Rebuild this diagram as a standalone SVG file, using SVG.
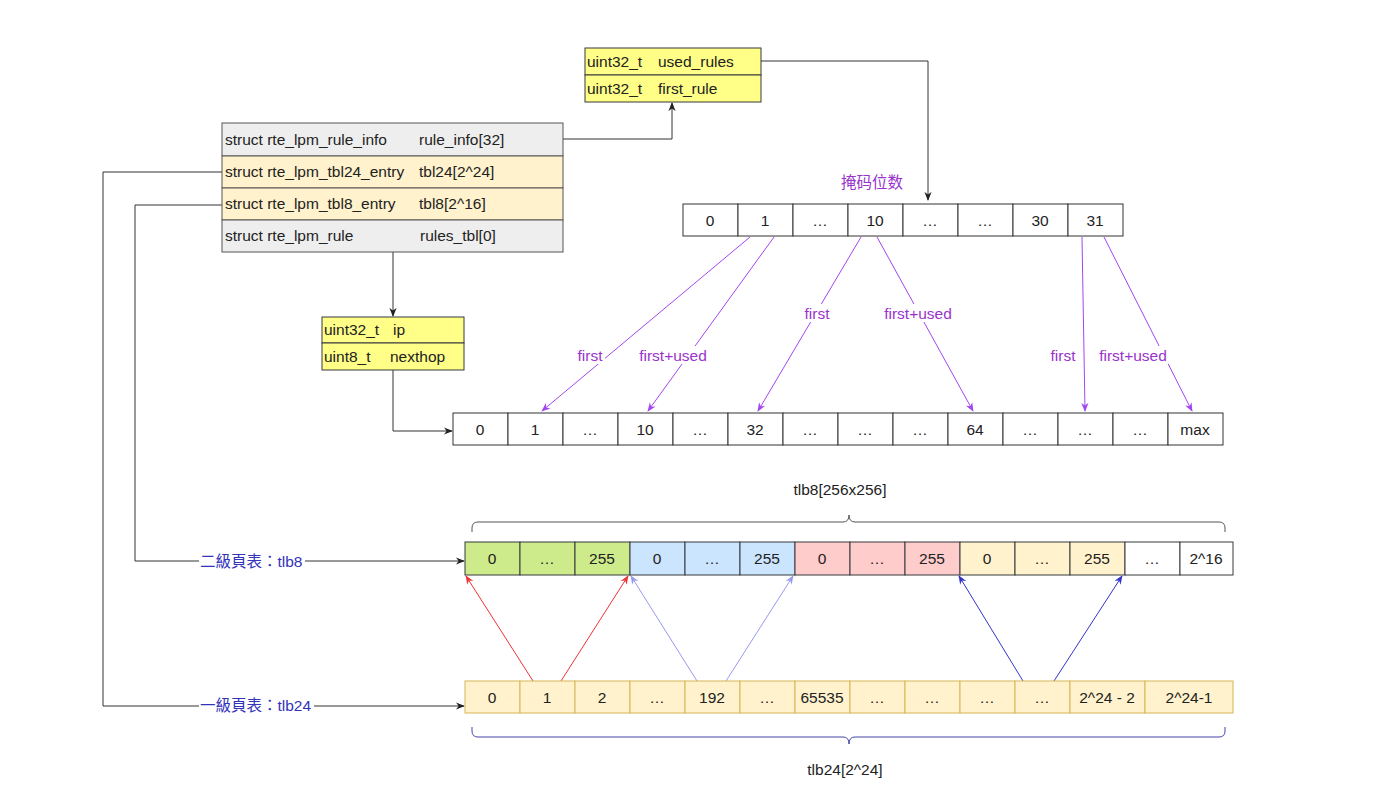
<svg xmlns="http://www.w3.org/2000/svg" width="1375" height="809" viewBox="0 0 1375 809">
<defs>
<style>
text{font-family:"Liberation Sans",Arial,"Noto Sans CJK SC",sans-serif;font-size:15.5px;fill:#222}
.c{text-anchor:middle}
.y{fill:#FFFF88;stroke:#36393d}
.g{fill:#EEEEEE;stroke:#555}
.o{fill:#FFF2CC;stroke:#555}
.ln{fill:none;stroke:#333;stroke-width:1}
.pu{fill:none;stroke:#A346F0;stroke-width:1}
.pt{fill:#9933CC}
.bt{fill:#3333BB;font-family:"Liberation Sans","Noto Sans CJK TC",sans-serif}
.t24{fill:#FFF2CC;stroke:#D6B656}
</style>
<marker id="ab" viewBox="0 0 10 10" refX="9" refY="5" markerWidth="9" markerHeight="9" markerUnits="userSpaceOnUse" orient="auto"><path d="M0,1 L10,5 L0,9 L3,5 Z" fill="#222"/></marker>
<marker id="ap" viewBox="0 0 10 10" refX="9" refY="5" markerWidth="9" markerHeight="9" markerUnits="userSpaceOnUse" orient="auto"><path d="M0,1 L10,5 L0,9 L3,5 Z" fill="#A346F0"/></marker>
<marker id="ar" viewBox="0 0 10 10" refX="9" refY="5" markerWidth="9" markerHeight="9" markerUnits="userSpaceOnUse" orient="auto"><path d="M0,1 L10,5 L0,9 L3,5 Z" fill="#EE3333"/></marker>
<marker id="al" viewBox="0 0 10 10" refX="9" refY="5" markerWidth="9" markerHeight="9" markerUnits="userSpaceOnUse" orient="auto"><path d="M0,1 L10,5 L0,9 L3,5 Z" fill="#9999EE"/></marker>
<marker id="ad" viewBox="0 0 10 10" refX="9" refY="5" markerWidth="9" markerHeight="9" markerUnits="userSpaceOnUse" orient="auto"><path d="M0,1 L10,5 L0,9 L3,5 Z" fill="#3333CC"/></marker>
</defs>
<rect width="1375" height="809" fill="#fff"/>

<g id="connectors">
<path class="ln" d="M761,61 H928 V200" marker-end="url(#ab)"/>
<path class="ln" d="M563,139 H672 V103" marker-end="url(#ab)"/>
<path class="ln" d="M393,252 V316" marker-end="url(#ab)"/>
<path class="ln" d="M393,370 V431 H452" marker-end="url(#ab)"/>
<path class="ln" d="M222,205 H135 V561 H464" marker-end="url(#ab)"/>
<path class="ln" d="M222,172 H103 V706 H464" marker-end="url(#ab)"/>
<path class="pu" d="M750,237 L542,411" marker-end="url(#ap)"/>
<path class="pu" d="M774,237 L648,411" marker-end="url(#ap)"/>
<path class="pu" d="M861,237 L758,411" marker-end="url(#ap)"/>
<path class="pu" d="M877,237 L973,411" marker-end="url(#ap)"/>
<path class="pu" d="M1082,237 L1085,411" marker-end="url(#ap)"/>
<path class="pu" d="M1104,237 L1192,411" marker-end="url(#ap)"/>
<path fill="none" stroke="#EE3333" d="M533,681 L466,576" marker-end="url(#ar)"/>
<path fill="none" stroke="#EE3333" d="M561,681 L628,576" marker-end="url(#ar)"/>
<path fill="none" stroke="#9999EE" d="M697,681 L631,576" marker-end="url(#al)"/>
<path fill="none" stroke="#9999EE" d="M726,681 L793,576" marker-end="url(#al)"/>
<path fill="none" stroke="#3333CC" d="M1023,681 L959,576" marker-end="url(#ad)"/>
<path fill="none" stroke="#3333CC" d="M1054,681 L1122,576" marker-end="url(#ad)"/>
</g>

<g id="rule_info">
<rect class="y" x="585" y="48" width="176" height="27"/>
<rect class="y" x="585" y="75" width="176" height="27"/>
<text x="587" y="67">uint32_t</text><text x="658" y="67">used_rules</text>
<text x="587" y="94">uint32_t</text><text x="658" y="94">first_rule</text>
</g>

<g id="rte_lpm">
<rect class="g" x="222" y="123" width="341" height="33"/>
<rect class="o" x="222" y="156" width="341" height="32"/>
<rect class="o" x="222" y="188" width="341" height="32"/>
<rect class="g" x="222" y="220" width="341" height="32"/>
<text x="225" y="145">struct rte_lpm_rule_info</text><text x="419" y="145">rule_info[32]</text>
<text x="225" y="177">struct rte_lpm_tbl24_entry</text><text x="419" y="177">tbl24[2^24]</text>
<text x="225" y="209">struct rte_lpm_tbl8_entry</text><text x="419" y="209">tbl8[2^16]</text>
<text x="225" y="241">struct rte_lpm_rule</text><text x="420" y="241">rules_tbl[0]</text>
</g>

<g id="rule">
<rect class="y" x="322" y="317" width="142" height="26"/>
<rect class="y" x="322" y="343" width="142" height="27"/>
<text x="324" y="335">uint32_t</text><text x="393" y="335">ip</text>
<text x="324" y="362">uint8_t</text><text x="390" y="362">nexthop</text>
</g>

<g id="mask_array">
<text class="c pt" x="872" y="188" style="font-family:'Liberation Sans','Noto Sans CJK SC',sans-serif">掩码位数</text>
<g fill="#fff" stroke="#333">
<rect x="683" y="204" width="55" height="32"/><rect x="738" y="204" width="55" height="32"/><rect x="793" y="204" width="55" height="32"/><rect x="848" y="204" width="55" height="32"/>
<rect x="903" y="204" width="55" height="32"/><rect x="958" y="204" width="55" height="32"/><rect x="1013" y="204" width="55" height="32"/><rect x="1068" y="204" width="55" height="32"/>
</g>
<text class="c" x="710" y="226">0</text><text class="c" x="765" y="226">1</text><text class="c" x="820" y="226">…</text><text class="c" x="875" y="226">10</text>
<text class="c" x="930" y="226">…</text><text class="c" x="985" y="226">…</text><text class="c" x="1040" y="226">30</text><text class="c" x="1095" y="226">31</text>
</g>

<g id="purple_labels">
<g fill="#fff">
<rect x="575" y="346" width="30" height="18"/>
<rect x="637" y="346" width="72" height="18"/>
<rect x="802" y="304" width="30" height="18"/>
<rect x="882" y="304" width="72" height="18"/>
<rect x="1048" y="346" width="30" height="18"/>
<rect x="1097" y="346" width="72" height="18"/>
</g>
<text class="c pt" x="590" y="361">first</text>
<text class="c pt" x="673" y="361">first+used</text>
<text class="c pt" x="817" y="319">first</text>
<text class="c pt" x="918" y="319">first+used</text>
<text class="c pt" x="1063" y="361">first</text>
<text class="c pt" x="1133" y="361">first+used</text>
</g>

<g id="rules_array">
<g fill="#fff" stroke="#333">
<rect x="453" y="413" width="55" height="32"/><rect x="508" y="413" width="55" height="32"/><rect x="563" y="413" width="55" height="32"/><rect x="618" y="413" width="55" height="32"/>
<rect x="673" y="413" width="55" height="32"/><rect x="728" y="413" width="55" height="32"/><rect x="783" y="413" width="55" height="32"/><rect x="838" y="413" width="55" height="32"/>
<rect x="893" y="413" width="55" height="32"/><rect x="948" y="413" width="55" height="32"/><rect x="1003" y="413" width="55" height="32"/><rect x="1058" y="413" width="55" height="32"/>
<rect x="1113" y="413" width="55" height="32"/><rect x="1168" y="413" width="55" height="32"/>
</g>
<text class="c" x="480" y="435">0</text><text class="c" x="535" y="435">1</text><text class="c" x="590" y="435">…</text><text class="c" x="645" y="435">10</text>
<text class="c" x="700" y="435">…</text><text class="c" x="755" y="435">32</text><text class="c" x="810" y="435">…</text><text class="c" x="865" y="435">…</text>
<text class="c" x="920" y="435">…</text><text class="c" x="975" y="435">64</text><text class="c" x="1030" y="435">…</text><text class="c" x="1085" y="435">…</text>
<text class="c" x="1140" y="435">…</text><text class="c" x="1195" y="435">max</text>
</g>

<g id="tlb8">
<text class="c" x="840" y="495">tlb8[256x256]</text>
<path fill="none" stroke="#555" d="M472,532 V528 Q472,522 478,522 H843 Q849,522 849,515 Q849,522 855,522 H1219 Q1225,522 1225,528 V532"/>
<g stroke="#36393d">
<rect x="465" y="542" width="55" height="33" fill="#CDEB8B"/><rect x="520" y="542" width="55" height="33" fill="#CDEB8B"/><rect x="575" y="542" width="55" height="33" fill="#CDEB8B"/>
<rect x="630" y="542" width="55" height="33" fill="#CCE5FF"/><rect x="685" y="542" width="55" height="33" fill="#CCE5FF"/><rect x="740" y="542" width="55" height="33" fill="#CCE5FF"/>
<rect x="795" y="542" width="55" height="33" fill="#FFCCCC"/><rect x="850" y="542" width="55" height="33" fill="#FFCCCC"/><rect x="905" y="542" width="55" height="33" fill="#FFCCCC"/>
<rect x="960" y="542" width="55" height="33" fill="#FFF2CC"/><rect x="1015" y="542" width="55" height="33" fill="#FFF2CC"/><rect x="1070" y="542" width="55" height="33" fill="#FFF2CC"/>
<rect x="1125" y="542" width="55" height="33" fill="#fff"/><rect x="1180" y="542" width="53" height="33" fill="#fff"/>
</g>
<text class="c" x="492" y="564">0</text><text class="c" x="547" y="564">…</text><text class="c" x="602" y="564">255</text>
<text class="c" x="657" y="564">0</text><text class="c" x="712" y="564">…</text><text class="c" x="767" y="564">255</text>
<text class="c" x="822" y="564">0</text><text class="c" x="877" y="564">…</text><text class="c" x="932" y="564">255</text>
<text class="c" x="987" y="564">0</text><text class="c" x="1042" y="564">…</text><text class="c" x="1097" y="564">255</text>
<text class="c" x="1152" y="564">…</text><text class="c" x="1206" y="564">2^16</text>
</g>

<g id="tlb24">
<g class="t24">
<rect x="465" y="681" width="55" height="32"/><rect x="520" y="681" width="55" height="32"/><rect x="575" y="681" width="55" height="32"/><rect x="630" y="681" width="55" height="32"/>
<rect x="685" y="681" width="55" height="32"/><rect x="740" y="681" width="55" height="32"/><rect x="795" y="681" width="55" height="32"/><rect x="850" y="681" width="55" height="32"/>
<rect x="905" y="681" width="55" height="32"/><rect x="960" y="681" width="55" height="32"/><rect x="1015" y="681" width="55" height="32"/>
<rect x="1070" y="681" width="75" height="32"/><rect x="1145" y="681" width="88" height="32"/>
</g>
<text class="c" x="492" y="703">0</text><text class="c" x="547" y="703">1</text><text class="c" x="602" y="703">2</text><text class="c" x="657" y="703">…</text>
<text class="c" x="712" y="703">192</text><text class="c" x="767" y="703">…</text><text class="c" x="822" y="703">65535</text><text class="c" x="877" y="703">…</text>
<text class="c" x="932" y="703">…</text><text class="c" x="987" y="703">…</text><text class="c" x="1042" y="703">…</text>
<text class="c" x="1107" y="703">2^24 - 2</text><text class="c" x="1189" y="703">2^24-1</text>
<path fill="none" stroke="#4444AA" d="M472,727 V731 Q472,737 478,737 H843 Q849,737 849,744 Q849,737 855,737 H1219 Q1225,737 1225,731 V727"/>
<text class="c" x="845" y="775">tlb24[2^24]</text>
</g>

<g id="side_labels">
<rect x="199" y="552" width="106" height="19" fill="#fff"/>
<text class="bt" x="200" y="567">二級頁表：tlb8</text>
<rect x="199" y="696" width="115" height="19" fill="#fff"/>
<text class="bt" x="200" y="711">一級頁表：tlb24</text>
</g>
</svg>
